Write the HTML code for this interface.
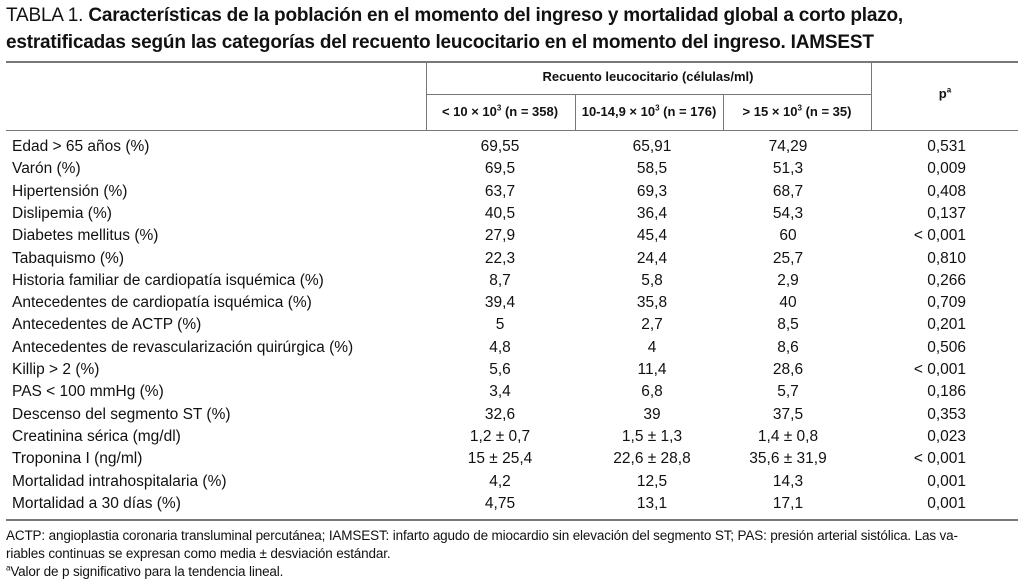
<!DOCTYPE html>
<html><head><meta charset="utf-8"><style>
body{margin:0;width:1024px;height:583px;background:#fff;font-family:"Liberation Sans Narrow","Liberation Sans",sans-serif;color:#111;position:relative;overflow:hidden}
sup{line-height:0}
.t{position:absolute;left:6px;font-size:19px;line-height:27px;top:2px;letter-spacing:-0.2px}
.hl{position:absolute;background:#777}
.vl{position:absolute;background:#777;width:1px}
.r{position:absolute;left:0;width:1024px;height:22px;font-size:15.5px}
.r span{position:absolute;top:0;white-space:nowrap}
.c1{left:12px}
.n{transform:translateX(-50%)}
.p{right:58px}
.h{position:absolute;font-size:13px;font-weight:bold;transform:translateX(-50%);white-space:nowrap}
.f{position:absolute;left:6px;font-size:13.5px;line-height:18px;top:527px;width:1016px;white-space:nowrap;letter-spacing:-0.15px}
</style></head><body>
<div class="t">TABLA 1. <b>Características de la población en el momento del ingreso y mortalidad global a corto plazo,<br>estratificadas según las categorías del recuento leucocitario en el momento del ingreso. IAMSEST</b></div>
<div class="hl" style="left:6px;width:1012px;top:61px;height:2px"></div>
<div class="hl" style="left:426px;width:445px;top:94px;height:1px"></div>
<div class="hl" style="left:6px;width:1012px;top:130px;height:1px"></div>
<div class="vl" style="left:426px;top:62px;height:68px"></div>
<div class="vl" style="left:575px;top:95px;height:35px"></div>
<div class="vl" style="left:723px;top:95px;height:35px"></div>
<div class="vl" style="left:871px;top:62px;height:68px"></div>
<div class="h" style="left:648px;top:69px">Recuento leucocitario (células/ml)</div>
<div class="h" style="left:945px;top:86px">p<sup style="font-size:8px">a</sup></div>
<div class="h" style="left:500px;top:104px">&lt; 10 × 10<sup style="font-size:8px">3</sup> (n = 358)</div>
<div class="h" style="left:649px;top:104px">10-14,9 × 10<sup style="font-size:8px">3</sup> (n = 176)</div>
<div class="h" style="left:797px;top:104px">&gt; 15 × 10<sup style="font-size:8px">3</sup> (n = 35)</div>
<div id="rows"></div>
<div class="hl" style="left:6px;width:1012px;top:519px;height:2px"></div>
<div class="f">ACTP: angioplastia coronaria transluminal percutánea; IAMSEST: infarto agudo de miocardio sin elevación del segmento ST; PAS: presión arterial sistólica. Las va-<br>riables continuas se expresan como media ± desviación estándar.<br><sup style="font-size:8px">a</sup>Valor de p significativo para la tendencia lineal.</div>
<script>
const labels=["Edad > 65 años (%)","Varón (%)","Hipertensión (%)","Dislipemia (%)","Diabetes mellitus (%)","Tabaquismo (%)","Historia familiar de cardiopatía isquémica (%)","Antecedentes de cardiopatía isquémica (%)","Antecedentes de ACTP (%)","Antecedentes de revascularización quirúrgica (%)","Killip > 2 (%)","PAS < 100 mmHg (%)","Descenso del segmento ST (%)","Creatinina sérica (mg/dl)","Troponina I (ng/ml)","Mortalidad intrahospitalaria (%)","Mortalidad a 30 días (%)"];
const col1=["69,55","69,5","63,7","40,5","27,9","22,3","8,7","39,4","5","4,8","5,6","3,4","32,6","1,2 ± 0,7","15 ± 25,4","4,2","4,75"];
const col2=["65,91","58,5","69,3","36,4","45,4","24,4","5,8","35,8","2,7","4","11,4","6,8","39","1,5 ± 1,3","22,6 ± 28,8","12,5","13,1"];
const col3=["74,29","51,3","68,7","54,3","60","25,7","2,9","40","8,5","8,6","28,6","5,7","37,5","1,4 ± 0,8","35,6 ± 31,9","14,3","17,1"];
const pvals=["0,531","0,009","0,408","0,137","< 0,001","0,810","0,266","0,709","0,201","0,506","< 0,001","0,186","0,353","0,023","< 0,001","0,001","0,001"];
const box=document.getElementById('rows');
labels.forEach((l,i)=>{
 const r=document.createElement('div');r.className='r';r.style.top=(138+i*22.3)+'px';
 
 
 const mk=(cls,txt,left)=>{const s=document.createElement('span');s.className=cls;s.textContent=txt;if(left!=null)s.style.left=left+'px';r.appendChild(s);return s;};
 const a=mk('c1',l);
 const b=mk('n',col1[i],500);
 const c=mk('n',col2[i],652);
 const d=mk('n',col3[i],788);
 const e=mk('p',pvals[i]);
 box.appendChild(r);
});
</script>
</body></html>
